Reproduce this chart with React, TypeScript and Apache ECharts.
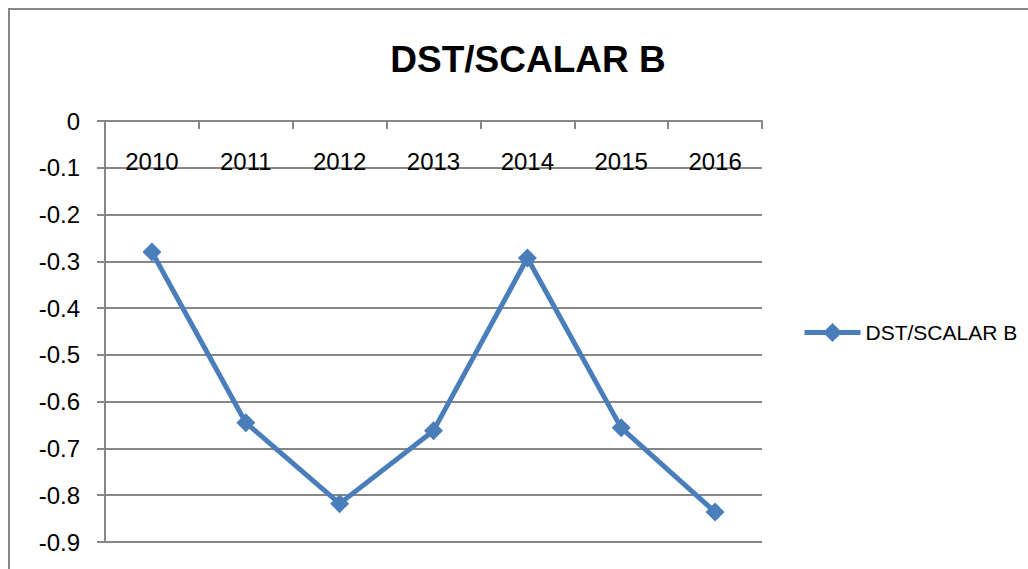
import React, { useEffect, useRef } from "react";
import * as echarts from "echarts";

const categories = ["2010", "2011", "2012", "2013", "2014", "2015", "2016"];
const seriesName = "DST/SCALAR B";
const values = [-0.28, -0.645, -0.818, -0.662, -0.293, -0.656, -0.836];
const titleText = "DST/SCALAR B";

const FONT = "'Liberation Sans', Arial, sans-serif";
const GRAY = "#878787";
const BLUE = "#4a7ebb";

export default function App() {
  const ref = useRef<HTMLDivElement>(null);
  useEffect(() => {
    if (!ref.current) return;
    const chart = echarts.init(ref.current, null, { renderer: "svg" });
    chart.setOption({
      animation: false,
      backgroundColor: "#ffffff",
      title: {
        text: titleText,
        left: 523,
        top: 36,
        textAlign: "center",
        textStyle: { fontFamily: FONT, fontSize: 37, fontWeight: "bold", color: "#000" },
      },
      graphic: [
        {
          type: "rect",
          shape: { x: 9, y: 9, width: 1200, height: 800 },
          style: { fill: "none", stroke: GRAY, lineWidth: 2 },
          silent: true,
        },
      ],
      legend: {
        left: 797,
        top: 317,
        itemWidth: 56,
        itemHeight: 24,
        itemGap: 10,
        lineStyle: { width: 5, color: BLUE },
        itemStyle: { color: BLUE },
        textStyle: { fontFamily: FONT, fontSize: 21, color: "#000" },
        data: [seriesName],
      },
      grid: { left: 105, top: 121, width: 657, height: 421 },
      xAxis: {
        type: "category",
        data: categories,
        position: "top",
        boundaryGap: true,
        axisLine: { show: true, lineStyle: { color: GRAY, width: 2 } },
        axisTick: { show: true, inside: true, length: 8, lineStyle: { color: GRAY, width: 2 } },
        axisLabel: {
          inside: true,
          margin: 28,
          fontFamily: FONT,
          fontSize: 24,
          color: "#000",
        },
        splitLine: { show: false },
      },
      yAxis: {
        type: "value",
        min: -0.9,
        max: 0,
        interval: 0.1,
        axisLine: { show: true, lineStyle: { color: GRAY, width: 2 } },
        axisTick: { show: true, length: 8, lineStyle: { color: GRAY, width: 2 } },
        axisLabel: {
          margin: 25,
          fontFamily: FONT,
          fontSize: 24,
          color: "#000",
          formatter: (v: number) => {
            const r = Math.round(v * 10) / 10;
            return r === 0 ? "0" : r.toFixed(1);
          },
        },
        splitLine: { show: true, lineStyle: { color: GRAY, width: 2 } },
      },
      series: [
        {
          name: seriesName,
          type: "line",
          data: values,
          symbol: "diamond",
          symbolSize: 19,
          lineStyle: { color: BLUE, width: 5 },
          itemStyle: { color: BLUE },
        },
      ],
    });
    return () => chart.dispose();
  }, []);
  return (
    <div
      ref={ref}
      style={{ position: "fixed", left: 0, top: 0, width: 1028, height: 569 }}
    />
  );
}
